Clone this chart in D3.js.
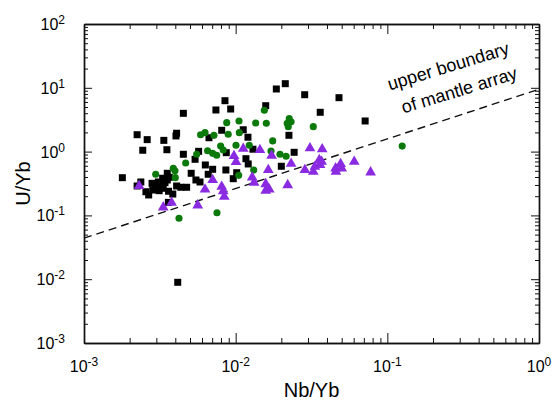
<!DOCTYPE html>
<html>
<head>
<meta charset="utf-8">
<script src="https://cdn.jsdelivr.net/npm/d3@7"></script>
<style>
body { margin: 0; background: #fff; }
svg text { font-family: "Liberation Sans", Arial, sans-serif; fill: #000; }
</style>
</head>
<body>
<div class="canvas"></div>
<script>
const width = 554, height = 404

// black squares
const squareX = [0.00179, 0.00850, 0.00741, 0.00927, 0.00452, 0.01578, 0.00224, 0.00261, 0.00336, 0.00408,
    0.00404, 0.00244, 0.00352, 0.00809, 0.01122, 0.01205, 0.00667, 0.00452, 0.00570, 0.00540,
    0.00631, 0.00509, 0.00705, 0.00862, 0.01016, 0.00964, 0.00867, 0.01169, 0.01210, 0.01300,
    0.00547, 0.00582, 0.00475, 0.00435, 0.00354, 0.00365, 0.00237, 0.00224, 0.00256, 0.00267,
    0.00281, 0.00295, 0.00309, 0.00325, 0.00342, 0.00284, 0.00313, 0.00333, 0.00361, 0.00385,
    0.00408, 0.00354, 0.00330, 0.00360, 0.01854, 0.02124, 0.02851, 0.0480, 0.0361, 0.0714,
    0.02245, 0.0243, 0.0200, 0.00659, 0.00415]
const squareY = [0.390, 6.28, 4.49, 4.65, 3.98, 5.24, 1.84, 1.54, 1.50, 1.94,
    1.76, 1.05, 1.07, 2.16, 2.20, 1.68, 1.65, 0.908, 1.01, 0.757,
    0.617, 0.457, 0.528, 0.515, 0.467, 0.376, 0.962, 0.774, 0.640, 1.09,
    0.359, 0.334, 0.276, 0.276, 0.457, 0.395, 0.334, 0.289, 0.235, 0.209,
    0.318, 0.289, 0.334, 0.303, 0.326, 0.250, 0.244, 0.266, 0.239, 0.216,
    0.289, 0.359, 0.382, 0.160, 9.58, 11.6, 7.79, 7.00, 4.13, 3.02,
    1.80, 0.975, 0.589, 0.441, 0.00894]

// green circles
const circleX = [0.00297, 0.00388, 0.00398, 0.00400, 0.00468, 0.00587, 0.00628, 0.00719, 0.00873, 0.01052,
    0.01355, 0.01592, 0.01545, 0.00893, 0.01057, 0.00653, 0.00705, 0.00750, 0.00796, 0.00828,
    0.01005, 0.01230, 0.00553, 0.01047, 0.01315, 0.02255, 0.0232, 0.02188, 0.02222, 0.0325,
    0.01754, 0.0171, 0.0196, 0.0215, 0.1253, 0.00423, 0.00753]
const circleY = [0.441, 0.547, 0.502, 0.390, 0.663, 1.84, 1.98, 1.80, 2.84, 3.02,
    2.81, 2.78, 4.44, 1.87, 1.98, 1.03, 0.940, 0.875, 1.22, 1.06,
    1.26, 1.26, 0.908, 0.425, 0.515, 3.28, 2.94, 2.78, 2.46, 2.46,
    1.47, 1.02, 0.908, 0.844, 1.22, 0.0901, 0.110]

// purple triangles
const triX = [0.00231, 0.01122, 0.00975, 0.01005, 0.01445, 0.01641, 0.00705, 0.00628, 0.00809, 0.00828,
    0.00841, 0.01285, 0.01322, 0.01578, 0.01578, 0.00378, 0.00562, 0.00333, 0.01726, 0.0309,
    0.0372, 0.0232, 0.01665, 0.02203, 0.0286, 0.0325, 0.0333, 0.0356, 0.0369, 0.0360,
    0.0456, 0.0458, 0.0492, 0.0500, 0.0605, 0.0776]
const triY = [0.289, 1.11, 0.853, 0.687, 1.06, 0.515, 0.359, 0.256, 0.282, 0.241,
    0.196, 0.395, 0.326, 0.310, 0.244, 0.158, 0.144, 0.134, 0.863, 1.13,
    1.09, 0.646, 0.256, 0.299, 0.515, 0.484, 0.580, 0.738, 0.695, 0.617,
    0.547, 0.484, 0.640, 0.547, 0.695, 0.474]

// upper boundary of mantle array
const boundaryX = [0.001, 1]
const boundaryY = [0.044, 9.5]

const xTicks = [1e-3, 1e-2, 1e-1, 1]
const xExp = ['-3', '-2', '-1', '0']
const yTicks = [1e-3, 1e-2, 1e-1, 1, 10, 100]
const yExp = ['-3', '-2', '-1', '0', '1', '2']

const svg = d3.select('.canvas').append('svg').attr('width', width).attr('height', height)

let [mt, mr, mb, ml] = [24, 15, 61, 84]
const graphWidth = width - ml - mr
const graphHeight = height - mt - mb

const graph = svg.append('g').attr('transform', `translate(${ml}, ${mt})`)

const x = d3.scaleLog().domain([1e-3, 1]).range([0, graphWidth])
const y = d3.scaleLog().domain([1e-3, 1e2]).range([graphHeight, 0])

const minorX = x.ticks().filter(d => !xTicks.some(t => Math.abs(t - d) / t < 1e-6))
const minorY = y.ticks().filter(d => !yTicks.some(t => Math.abs(t - d) / t < 1e-6))

// axes, ticks pointing inward on all four sides
const addAxis = (axis, tx, ty, vals, size) => {
    const g = graph.append('g').attr('transform', `translate(${tx}, ${ty})`)
        .call(axis.tickValues(vals).tickSizeInner(-size).tickSizeOuter(0).tickFormat(''))
    g.selectAll('line').attr('stroke', '#111').attr('stroke-width', 1)
    g.select('.domain').attr('stroke', '#111').attr('stroke-width', 1.4)
    return g
}
addAxis(d3.axisBottom(x), 0, graphHeight, xTicks, 10)
addAxis(d3.axisBottom(x), 0, graphHeight, minorX, 5)
addAxis(d3.axisTop(x), 0, 0, xTicks, 10)
addAxis(d3.axisTop(x), 0, 0, minorX, 5)
addAxis(d3.axisLeft(y), 0, 0, yTicks, 8)
addAxis(d3.axisLeft(y), 0, 0, minorY, 4)
addAxis(d3.axisRight(y), graphWidth, 0, yTicks, 8)
addAxis(d3.axisRight(y), graphWidth, 0, minorY, 4)

// tick labels as powers of ten
const xl = graph.selectAll('.xl').data(xTicks).enter().append('text')
    .attr('x', d => x(d)).attr('y', graphHeight + 29)
    .attr('text-anchor', 'middle').style('font-size', '16px')
xl.append('tspan').text('10')
xl.append('tspan').attr('dy', -6).style('font-size', '12px').text((d, i) => xExp[i])

const yl = graph.selectAll('.yl').data(yTicks).enter().append('text')
    .attr('x', -19).attr('y', d => y(d) + 6)
    .attr('text-anchor', 'end').style('font-size', '16px')
yl.append('tspan').text('10')
yl.append('tspan').attr('dy', -6).style('font-size', '12px').text((d, i) => yExp[i])

svg.append('text').attr('x', ml + graphWidth / 2).attr('y', 397)
    .attr('text-anchor', 'middle').style('font-size', '20px').text('Nb/Yb')
svg.append('text').attr('transform', `translate(30, ${mt + graphHeight / 2}) rotate(-90)`)
    .attr('text-anchor', 'middle').style('font-size', '20px').text('U/Yb')

// dashed boundary line
const line = d3.line().x(d => x(d[0])).y(d => y(d[1]))
graph.append('path')
    .datum(boundaryX.map((d, i) => [d, boundaryY[i]]))
    .attr('d', line)
    .attr('fill', 'none')
    .attr('stroke', '#111')
    .attr('stroke-width', 1.4)
    .attr('stroke-dasharray', '8,5')

svg.append('text').attr('transform', 'translate(450, 72) rotate(-17)')
    .attr('text-anchor', 'middle').style('font-size', '18px').text('upper boundary')
svg.append('text').attr('transform', 'translate(461, 96) rotate(-17)')
    .attr('text-anchor', 'middle').style('font-size', '18px').text('of mantle array')

// markers
const drawSymbols = (xs, ys, type, size, color) => {
    graph.append('g').selectAll('path').data(xs.map((d, i) => [d, ys[i]])).enter()
        .append('path')
        .attr('transform', d => `translate(${x(d[0])}, ${y(d[1])})`)
        .attr('d', d3.symbol().type(type).size(size))
        .attr('fill', color)
}
drawSymbols(squareX, squareY, d3.symbolSquare, 49, '#000000')
drawSymbols(circleX, circleY, d3.symbolCircle, 40, '#0b7a0b')
drawSymbols(triX, triY, d3.symbolTriangle, 50, '#8a2be2')
</script>
</body>
</html>
